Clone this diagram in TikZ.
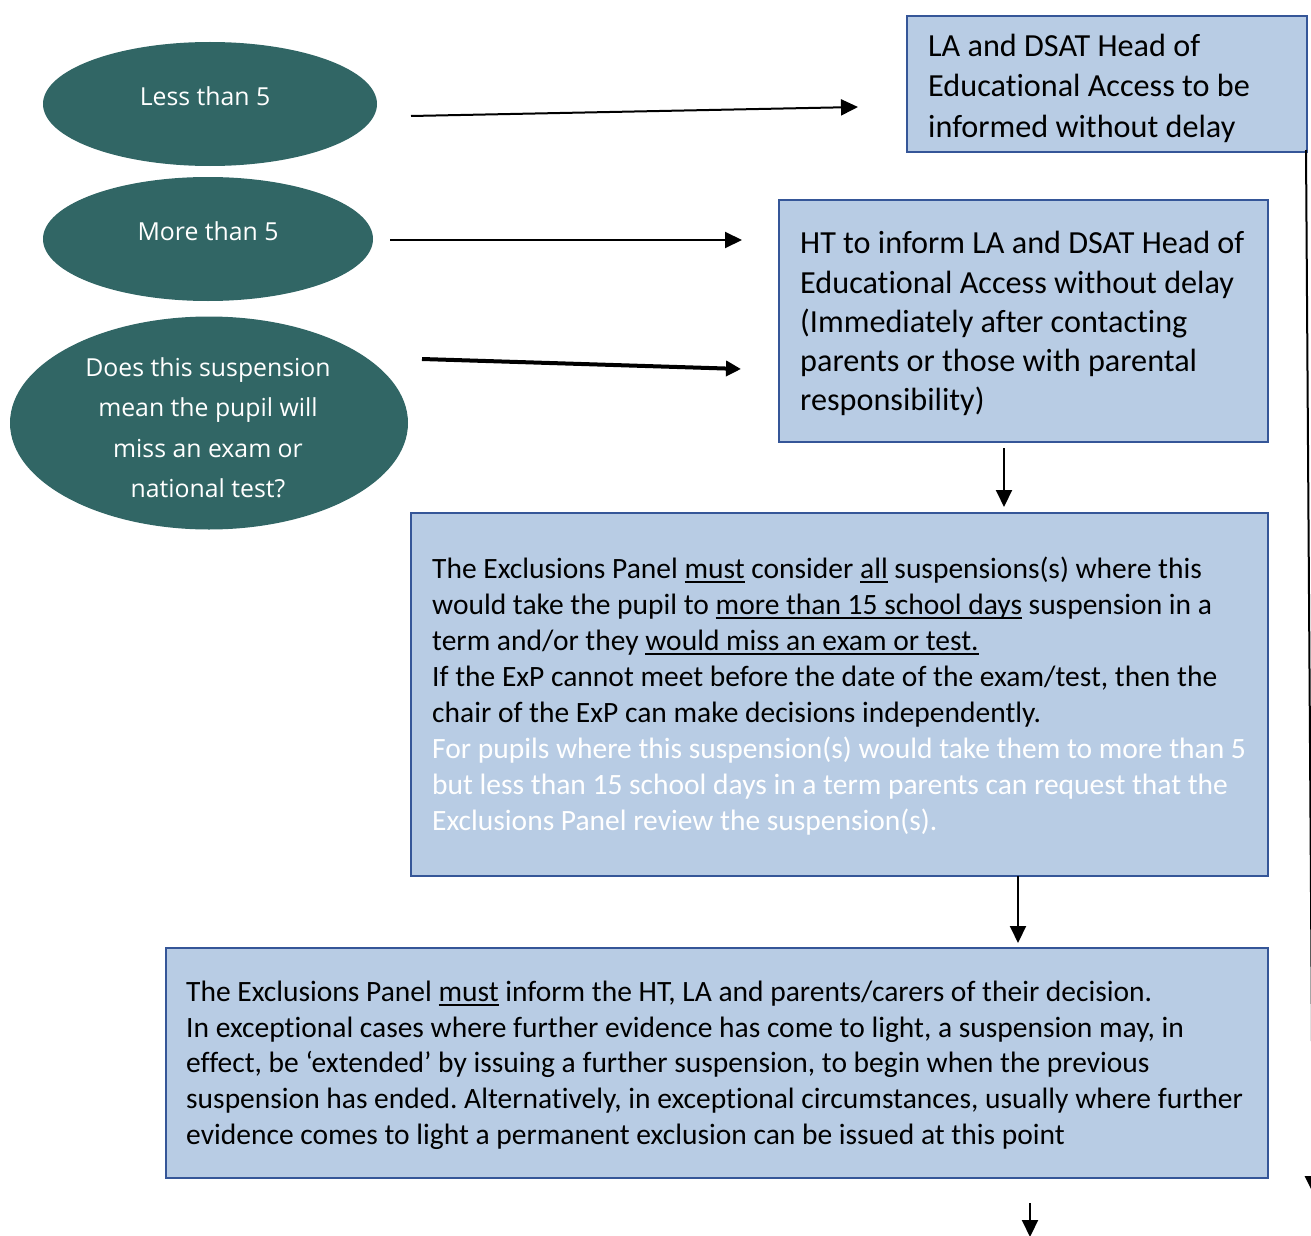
\documentclass[tikz,border=0pt]{standalone}
\usepackage{fontspec}
\setmainfont{Carlito}[Ligatures={TeX,NoCommon}]
\newfontfamily\ellfont{Open Sans}
\usetikzlibrary{shapes.geometric,arrows.meta}
\definecolor{teal}{RGB}{49,102,101}
\definecolor{boxblue}{RGB}{184,204,228}
\definecolor{boxedge}{RGB}{53,86,152}
\newlength\ulw
\newcommand\myul[1]{\settowidth\ulw{#1}\rlap{\rule[-0.17em]{\ulw}{0.06em}}#1}
\frenchspacing
\tikzset{
  x=1pt,y=-1pt,
  boxnode/.style={draw=boxedge,fill=boxblue,line width=2pt,rectangle,inner sep=0pt,anchor=north west},
  ellnode/.style={ellipse,fill=teal,draw=none,inner sep=0pt},
  bigtxt/.style={anchor=base west,inner sep=0pt,font=\fontsize{32.2}{40}\selectfont},
  midtxt/.style={anchor=base west,inner sep=0pt,font=\fontsize{29.5}{36}\selectfont},
  elltxt/.style={anchor=base,inner sep=0pt,text=white,font=\ellfont\fontsize{24.8}{40}\selectfont},
  conn/.style={line width=2pt,-{Triangle[length=17pt,width=16pt]}},
  thickconn/.style={line width=4pt,-{Triangle[length=15pt,width=15pt]}}
}
\begin{document}
\begin{tikzpicture}
\useasboundingbox (0,0) rectangle (1311,1236);
% ellipses
\node[ellnode,minimum width=334pt,minimum height=124pt] (e1) at (210,104) {};
\node[ellnode,minimum width=330pt,minimum height=124pt] (e2) at (208,239) {};
\node[ellnode,minimum width=398pt,minimum height=213pt] (e3) at (209,423) {};
\node[elltxt] (e1t) at (205,106) {Less than 5};
\node[elltxt] (e2t) at (208,240) {More than 5};
\node[elltxt] (e3a) at (208,376) {Does this suspension};
\node[elltxt] (e3b) at (208,416) {mean the pupil will};
\node[elltxt] (e3c) at (208,457) {miss an exam or};
\node[elltxt] (e3d) at (208,497) {national test?};
% boxes
\node[boxnode,minimum width=400pt,minimum height=136pt] (b1) at (906,15) {};
\node[boxnode,minimum width=489pt,minimum height=242pt] (b2) at (778,199) {};
\node[boxnode,minimum width=857pt,minimum height=363pt] (b3) at (410,512) {};
\node[boxnode,minimum width=1102pt,minimum height=230pt] (b4) at (165,947) {};
% box 1 text
\node[bigtxt] (b1a) at (928,57) {LA and DSAT Head of};
\node[bigtxt] (b1b) at (928,97) {Educational Access to be};
\node[bigtxt] (b1c) at (928,137) {informed without delay};
% box 2 text
\node[bigtxt] (b2a) at (800,253) {HT to inform LA and DSAT Head of};
\node[bigtxt] (b2b) at (800,293) {Educational Access without delay};
\node[bigtxt] (b2c) at (800,332) {(Immediately after contacting};
\node[bigtxt] (b2d) at (800,371) {parents or those with parental};
\node[bigtxt] (b2e) at (800,410) {responsibility)};
% box 3 text
\node[midtxt] (b3a) at (432,578) {The Exclusions Panel \myul{must} consider \myul{all} suspensions(s) where this};
\node[midtxt] (b3b) at (432,614) {would take the pupil to \myul{more than 15 school days} suspension in a};
\node[midtxt] (b3c) at (432,650) {term and/or they \myul{would miss an exam or test.}};
\node[midtxt] (b3d) at (432,686) {If the ExP cannot meet before the date of the exam/test, then the};
\node[midtxt] (b3e) at (432,722) {chair of the ExP can make decisions independently.};
\node[midtxt,text=white] (b3f) at (432,758) {For pupils where this suspension(s) would take them to more than 5};
\node[midtxt,text=white] (b3g) at (432,794) {but less than 15 school days in a term parents can request that the};
\node[midtxt,text=white] (b3h) at (432,830) {Exclusions Panel review the suspension(s).};
% box 4 text
\node[midtxt] (b4a) at (186,1001) {The Exclusions Panel \myul{must} inform the HT, LA and parents/carers of their decision.};
\node[midtxt] (b4b) at (186,1037) {In exceptional cases where further evidence has come to light, a suspension may, in};
\node[midtxt] (b4c) at (186,1072) {effect, be ‘extended’ by issuing a further suspension, to begin when the previous};
\node[midtxt] (b4d) at (186,1108) {suspension has ended. Alternatively, in exceptional circumstances, usually where further};
\node[midtxt] (b4e) at (186,1144) {evidence comes to light a permanent exclusion can be issued at this point};
% connector end points
\coordinate (c1s) at (411,116);
\coordinate (c1e) at (858,107);
\coordinate (c2s) at (390,240);
\coordinate (c2e) at (742,240);
\coordinate (c3s) at (422,359);
\coordinate (c3e) at (741,369);
\coordinate (c4s) at (1004,448);
\coordinate (c4e) at (1004,507);
\coordinate (c5s) at (1018,876);
\coordinate (c5e) at (1018,943);
\coordinate (c6s) at (1030,1203);
\coordinate (c6e) at (1030,1237);
\coordinate (c7s) at (1306,150);
\coordinate (c7e) at (1313,1193);
\draw[conn] (c1s) -- (c1e);
\draw[conn] (c2s) -- (c2e);
\draw[thickconn] (c3s) -- (c3e);
\draw[conn] (c4s) -- (c4e);
\draw[conn] (c5s) -- (c5e);
\draw[conn] (c6s) -- (c6e);
\draw[conn] (c7s) -- (c7e);
\end{tikzpicture}
\end{document}
